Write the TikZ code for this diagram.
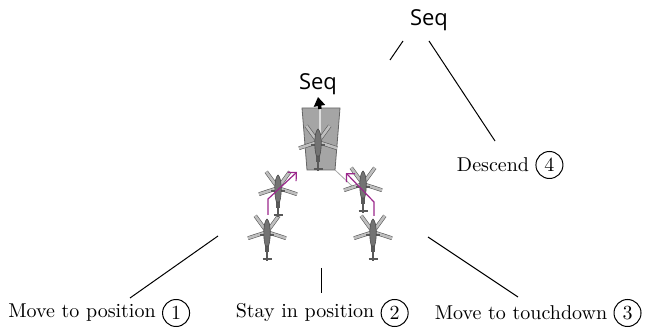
\documentclass[tikz,border=0pt]{standalone}
\usepackage{fontspec}
\setsansfont{Open Sans}
\usetikzlibrary{positioning,arrows.meta}

\definecolor{routepurple}{RGB}{155,40,140}
\definecolor{hullgray}{RGB}{115,115,115}
\definecolor{cabgray}{RGB}{165,165,165}

\tikzset{
blade/.style={
  draw=gray!70!black,
  line width=0.3pt,
  double=gray!50,
  double distance=1.3pt
  },
hull/.style={
  draw=black!70,
  fill=hullgray,
  line width=0.3pt
  },
boom/.style={
  draw=black!65,
  line width=1.1pt
  },
heli/.pic={
  % five rotor blades round the hub
  \foreach \ang in {18,90,162,234,306}
    \draw[blade] (0,0) -- (\ang:20);
  % body, tail and stub wings
  \draw[boom] (0,10) -- (0,29);
  \draw[boom] (-4.5,27) -- (4.5,27);
  \draw[boom] (-7,3) -- (7,3);
  \draw[hull] (0,-13) .. controls (4,-10) and (4,7) .. (1.6,14)
    -- (-1.6,14) .. controls (-4,7) and (-4,-10) .. (0,-13) -- cycle;
  }
}

\begin{document}
\begin{tikzpicture}[
x=0.5pt,
y=-0.5pt,
seq/.style={
  font=\sffamily\fontsize{11}{13}\selectfont,
  inner sep=1pt
  },
task/.style={
  inner sep=1pt
  },
num/.style={
  draw,
  circle,
  line width=0.5pt,
  minimum size=13.5pt,
  inner sep=0pt
  },
branch/.style={
  line width=0.5pt
  },
route/.style={
  draw=routepurple,
  line width=0.6pt,
  -{Straight Barb[length=3pt]}
  },
lift/.style={
  line width=1.7pt,
  -{Triangle[length=4.5pt,width=5.5pt]}
  },
cab/.style={
  draw=black!60,
  fill=cabgray,
  line width=0.4pt
  }
]
\useasboundingbox (0,0) rectangle (646,330);

% sequence nodes
\node[seq] (seqtop) at (429,20) {Seq};
\node[seq] (seqmid) at (318,84) {Seq};

% leaf tasks
\node[task] (move) at (82,313) {Move to position};
\node[num, right=2pt of move] (n1) {1};
\node[task] (stay) at (305,313) {Stay in position};
\node[num, right=2pt of stay] (n2) {2};
\node[task] (touch) at (521,313) {Move to touchdown};
\node[num, right=2pt of touch] (n3) {3};
\node[task] (descend) at (493,165) {Descend};
\node[num, right=2pt of descend] (n4) {4};

% formation box with leader
\draw[cab] (302,108) -- (340,108) -- (335,170) -- (307,170) -- cycle;
\draw[white!75!gray, line width=1pt] (320,108) -- (320,150);
\coordinate (cabtop) at (320,109);
\draw[lift] (cabtop) -- (seqmid.south);
\pic at (318,142) {heli};
\coordinate (cabcorner) at (335,170);
\coordinate (cabtrail) at (352,186);
\draw[gray!70, line width=0.4pt] (cabcorner) -- (cabtrail);

% wingmen
\pic at (267,232) {heli};
\pic at (278,188) {heli};
\pic at (373,232) {heli};
\pic at (363,184) {heli};

% joining routes
\coordinate (la) at (268,215);
\coordinate (lb) at (268,199);
\coordinate (lc) at (297,172);
\draw[route] (la) -- (lb) -- (lc);
\coordinate (ra) at (374,216);
\coordinate (rb) at (374,202);
\coordinate (rc) at (346,173);
\draw[route] (ra) -- (rb) -- (rc);

% tree branches
\coordinate (t1) at (403,41);
\coordinate (t2) at (390,60);
\draw[branch] (t1) -- (t2);
\coordinate (t3) at (429,41);
\coordinate (t4) at (495,141);
\draw[branch] (t3) -- (t4);
\coordinate (m1) at (218,236);
\coordinate (m2) at (130,298);
\draw[branch] (m1) -- (m2);
\coordinate (m3) at (321,268);
\coordinate (m4) at (321,293);
\draw[branch] (m3) -- (m4);
\coordinate (m5) at (428,237);
\coordinate (m6) at (518,297);
\draw[branch] (m5) -- (m6);

\end{tikzpicture}
\end{document}
